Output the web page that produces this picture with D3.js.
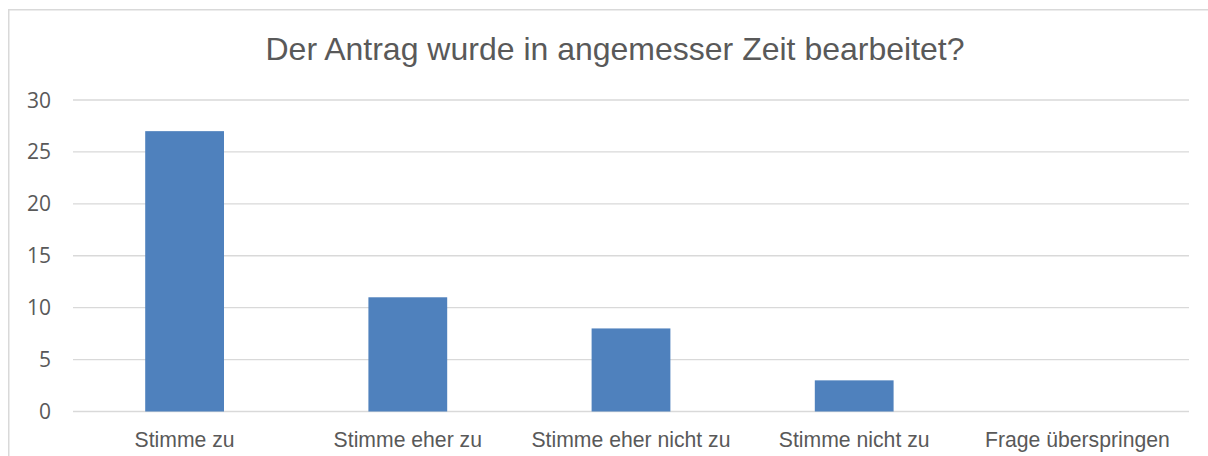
<!DOCTYPE html>
<html>
<head>
<meta charset="utf-8">
<script src="https://cdn.jsdelivr.net/npm/d3@7"></script>
<style>
  body { margin: 0; background: #fff; }
  svg { display: block; }
</style>
</head>
<body>
<svg id="svg"></svg>
<script>
// chart data
const title = 'Der Antrag wurde in angemesser Zeit bearbeitet?';
const categories = ['Stimme zu', 'Stimme eher zu', 'Stimme eher nicht zu', 'Stimme nicht zu', 'Frage überspringen'];
const values = [27, 11, 8, 3, 0];
const yTicks = [0, 5, 10, 15, 20, 25, 30];

const width = 1208;
const height = 456;
const textColor = '#595959';
const gridColor = '#d9d9d9';

const svg = d3.select('#svg')
  .attr('width', width)
  .attr('height', height);

// chart border (runs off the right and bottom edge)
svg.append('rect')
  .attr('x', 8.75)
  .attr('y', 9.75)
  .attr('width', 1240)
  .attr('height', 500)
  .attr('fill', 'white')
  .attr('stroke', gridColor)
  .attr('stroke-width', 1.5);

const x = d3.scaleBand()
  .domain(categories)
  .range([73, 1189])
  .paddingInner(0.647)
  .paddingOuter(0.647 / 2);

const y = d3.scaleLinear()
  .domain([0, 30])
  .range([411.5, 100]);

// gridlines
svg.append('g')
  .selectAll('line')
  .data(yTicks)
  .enter().append('line')
  .attr('x1', 73)
  .attr('x2', 1189)
  .attr('y1', d => y(d))
  .attr('y2', d => y(d))
  .attr('stroke', gridColor)
  .attr('stroke-width', 1.3);

// y tick labels
svg.append('g')
  .selectAll('text')
  .data(yTicks)
  .enter().append('text')
  .attr('x', 51)
  .attr('y', d => y(d))
  .attr('dy', '0.36em')
  .attr('text-anchor', 'end')
  .attr('font-family', '"Open Sans", sans-serif')
  .attr('font-size', 21)
  .attr('fill', textColor)
  .text(d => d);

// bars
svg.append('g')
  .selectAll('rect')
  .data(values)
  .enter().append('rect')
  .attr('x', (d, i) => x(categories[i]))
  .attr('y', d => y(d))
  .attr('width', x.bandwidth())
  .attr('height', d => y(0) - y(d))
  .attr('fill', '#4f81bd');

// category labels
svg.append('g')
  .selectAll('text')
  .data(categories)
  .enter().append('text')
  .attr('x', d => x(d) + x.bandwidth() / 2)
  .attr('y', 446.5)
  .attr('text-anchor', 'middle')
  .attr('font-family', '"Liberation Sans", Arial, sans-serif')
  .attr('font-size', 21.2)
  .attr('fill', textColor)
  .text(d => d);

// title
svg.append('text')
  .attr('x', 615)
  .attr('y', 60)
  .attr('text-anchor', 'middle')
  .attr('font-family', '"Liberation Sans", Arial, sans-serif')
  .attr('font-size', 32)
  .attr('fill', textColor)
  .text(title);
</script>
</body>
</html>
